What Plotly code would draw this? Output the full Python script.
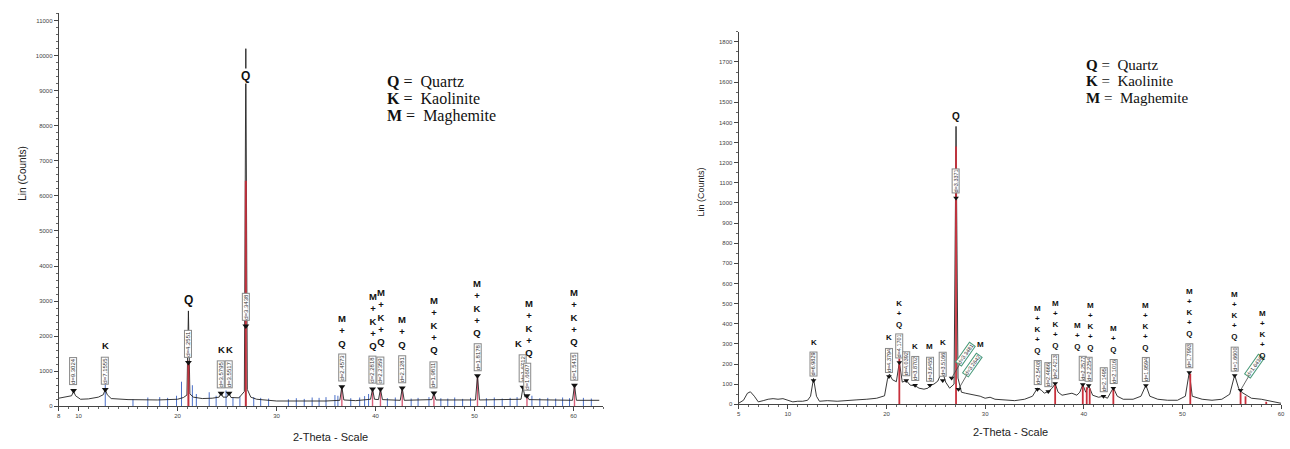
import plotly.graph_objects as go

W, H = 1290, 449

# ---------------- Left diffractogram ----------------
L_tt = [8.0, 8.8, 9.3, 9.5, 9.7, 10.2, 11.0, 12.0, 12.5, 12.7, 12.9, 13.3, 15.0, 18.0, 20.0, 20.6,
        20.95, 21.1, 21.25, 21.6, 22.5, 23.5, 24.2, 24.4, 24.6, 25.0, 25.2, 25.4, 26.2, 26.75,
        26.9, 27.05, 27.4, 28.0, 30.0, 35.0, 36.4, 36.6, 36.8, 38.0, 39.5, 39.7, 39.9, 40.3,
        40.5, 40.7, 42.5, 42.7, 42.9, 45.7, 45.9, 46.1, 50.1, 50.3, 50.5, 54.7, 54.9, 55.1,
        55.3, 55.5, 59.9, 60.1, 60.3, 62.6]
L_counts = [230, 260, 300, 430, 300, 200, 210, 260, 330, 480, 330, 220, 190, 180, 200, 250,
            320, 2720, 350, 260, 220, 230, 260, 380, 260, 260, 380, 250, 240, 420,
            10200, 480, 260, 200, 150, 150, 170, 560, 180, 160, 200, 490, 200, 190,
            490, 190, 170, 520, 170, 190, 380, 180, 180, 870, 180, 200, 540, 260,
            300, 190, 170, 600, 170, 170]

L_quartz_pos = [21.1, 26.9]
L_quartz_int = [1300, 6430]
L_magh_pos = [36.6, 39.7, 40.5, 42.7, 45.9, 50.3, 55.3, 60.1]
L_magh_int = [560, 490, 490, 520, 380, 870, 300, 600]
L_kaol_pos = [12.7, 15.5, 17.0, 18.2, 19.0, 19.9, 20.4, 21.5, 21.9, 23.2, 23.9, 24.9, 25.6, 26.3,
              27.7, 28.4, 29.2, 31.2, 32.0, 32.8, 33.6, 34.3, 35.0, 35.9, 36.2, 37.5, 38.4, 38.9,
              39.3, 41.2, 42.0, 43.6, 44.3, 45.4, 46.6, 47.3, 48.0, 48.8, 49.6, 51.2, 52.0, 52.8,
              53.6, 54.3, 55.8, 56.6, 57.4, 58.2, 58.9, 59.6, 61.0, 61.8]
L_kaol_int = [1100, 200, 250, 260, 240, 300, 700, 600, 350, 400, 300, 450, 250, 280,
              260, 240, 220, 200, 230, 210, 250, 240, 260, 320, 300, 230, 250, 290,
              350, 230, 250, 220, 240, 260, 230, 220, 250, 210, 240, 230, 250, 220,
              240, 260, 300, 230, 240, 220, 250, 230, 240, 220]

L_pk_pos = [9.5, 12.7, 21.1, 24.4, 25.2, 26.9, 36.6, 39.7, 40.5, 42.7, 45.9, 50.3, 54.9, 55.3, 60.1]
L_pk_int = [450, 480, 1250, 370, 370, 2290, 560, 490, 490, 520, 380, 870, 540, 300, 600]
L_pk_d = ["d=9.3024", "d=7.1555", "d=4.2551", "d=3.5795", "d=3.5517", "d=3.3438", "d=2.4573",
          "d=2.2818", "d=2.2359", "d=2.1281", "d=1.9811", "d=1.8178", "d=1.6712", "d=1.6607",
          "d=1.5415"]
L_pk_phase = ["", "K", "", "K", "K", "", "M<br>+<br>Q", "M<br>+<br>K<br>+<br>Q",
              "M<br>+<br>K<br>+<br>Q", "M<br>+<br>Q", "M<br>+<br>K<br>+<br>Q",
              "M<br>+<br>K<br>+<br>Q", "K", "M<br>+<br>K<br>+<br>Q", "M<br>+<br>K<br>+<br>Q"]
L_Q_pos = [21.1, 26.9]
L_Q_y = [3030, 9430]

# ---------------- Right diffractogram ----------------
R_tt = [5.0, 5.5, 5.9, 6.2, 6.6, 7.0, 7.5, 8.0, 8.5, 9.0, 9.5, 10.0, 10.5, 11.0, 11.5, 12.0,
        12.3, 12.6, 12.9, 13.2, 14.0, 15.0, 16.0, 17.0, 18.0, 19.0, 19.8, 20.1, 20.3, 20.6,
        21.0, 21.3, 21.6, 22.0, 22.4, 22.9, 23.3, 23.8, 24.2, 24.5, 24.8, 25.2, 25.5, 25.7,
        26.0, 26.4, 26.85, 27.05, 27.25, 27.6, 28.0, 28.5, 29.0, 29.5, 30.0, 30.5, 31.0, 32.0,
        33.0, 34.0, 34.8, 35.3, 35.7, 36.0, 36.4, 36.8, 37.1, 37.4, 37.8, 38.3, 38.8, 39.3,
        39.6, 39.9, 40.2, 40.5, 40.9, 41.5, 42.0, 42.4, 43.0, 43.4, 44.0, 45.0, 45.8, 46.3,
        46.7, 47.5, 48.5, 49.5, 50.3, 50.7, 51.0, 52.0, 53.0, 54.0, 54.8, 55.3, 55.7, 56.0,
        56.5, 57.0, 58.0, 59.0, 60.0]
R_counts = [5, 20, 55, 62, 40, 12, 18, 25, 28, 25, 28, 20, 12, 15, 15, 20,
            40, 128, 40, 15, 18, 15, 20, 22, 25, 30, 42, 125, 150, 122,
            112, 210, 110, 118, 95, 92, 80, 75, 80, 95, 100, 115, 150, 160,
            110, 80, 100, 1380, 130, 60, 55, 50, 45, 40, 30, 35, 25, 20,
            18, 25, 40, 80, 70, 55, 64, 80, 103, 60, 45, 50, 55, 45,
            60, 98, 60, 93, 45, 35, 40, 30, 82, 40, 25, 25, 40, 95,
            40, 25, 20, 20, 40, 160, 40, 25, 20, 25, 50, 145, 80, 60,
            45, 30, 25, 15, 5]

R_stick_pos = [21.3, 27.05, 37.1, 39.9, 40.3, 40.6, 43.0, 50.8, 55.9, 56.4, 58.5]
R_stick_int = [227, 1280, 100, 100, 85, 80, 82, 152, 60, 40, 12]

R_pk_pos = [12.6, 20.25, 21.3, 22.0, 22.9, 24.4, 25.7, 27.05, 35.3, 36.4, 37.1, 39.9, 40.5,
            42.0, 43.0, 46.3, 50.7, 55.3]
R_pk_int = [118, 138, 207, 118, 94, 94, 118, 1025, 75, 64, 103, 98, 93, 40, 80, 93, 158, 143]
R_pk_d = ["d=6.9829", "d=4.3794", "d=4.1701", "d=4.0392", "d=3.8702", "d=3.6455", "d=3.5166",
          "d=3.3371", "d=2.5408", "d=2.4666", "d=2.4213", "d=2.2577", "d=2.2254", "d=2.1495",
          "d=2.1016", "d=1.9594", "d=1.7993", "d=1.6600"]
R_pk_phase = ["K", "K", "K<br>+<br>Q", "", "K", "M", "K", "", "M<br>+<br>K<br>+<br>Q", "",
              "M<br>+<br>K<br>+<br>Q", "M<br>+<br>Q", "M<br>+<br>K<br>+<br>Q", "", "M<br>+<br>Q",
              "M<br>+<br>K<br>+<br>Q", "M<br>+<br>K<br>+<br>Q", "M<br>+<br>K<br>+<br>Q"]
R_tilt_pos = [26.6, 27.3, 55.9]
R_tilt_int = [130, 75, 70]
R_tilt_d = ["d=3.3481", "d=3.2642", "d=1.6436"]
R_tilt_phase = ["", "M", "M<br>+<br>K<br>+<br>Q"]
R_Q_pos = [27.05]
R_Q_y = [1428]

SANS = "Liberation Sans, Arial, sans-serif"
SERIF = "Liberation Serif, Times New Roman, serif"

# small nudges of crowded phase labels (pixels): index -> (dx, dy)
L_nudge = {8: (1, 4), 12: (-5, 0), 13: (2, 0)}
R_nudge = {11: (-5, 0), 12: (2, 0)}


def px_x(p):
    return p / W


def px_y(p):
    return 1 - p / H


fig = go.Figure()


def sticks(pos, val, color, xa, ya, width=1.2):
    xs, ys = [], []
    for p, v in zip(pos, val):
        xs += [p, p, None]
        ys += [0, v, None]
    fig.add_trace(go.Scatter(x=xs, y=ys, mode="lines", line=dict(color=color, width=width),
                             xaxis=xa, yaxis=ya, hoverinfo="skip", showlegend=False))


# left panel
sticks(L_kaol_pos, L_kaol_int, "#4a6fc8", "x", "y", 1.0)
sticks(L_magh_pos, L_magh_int, "#d8607a", "x", "y", 1.4)
fig.add_trace(go.Scatter(x=L_tt, y=L_counts, mode="lines", line=dict(color="#222", width=0.9),
                         xaxis="x", yaxis="y", showlegend=False))
sticks(L_quartz_pos, L_quartz_int, "#c0303c", "x", "y", 2.0)
fig.add_trace(go.Scatter(x=L_pk_pos, y=L_pk_int, mode="markers",
                         marker=dict(symbol="triangle-down", size=6, color="#111"),
                         xaxis="x", yaxis="y", showlegend=False))

# right panel
fig.add_trace(go.Scatter(x=R_tt, y=R_counts, mode="lines", line=dict(color="#222", width=0.9),
                         xaxis="x2", yaxis="y2", showlegend=False))
sticks(R_stick_pos, R_stick_int, "#c8303c", "x2", "y2", 1.8)
fig.add_trace(go.Scatter(x=R_pk_pos + R_tilt_pos, y=R_pk_int + R_tilt_int, mode="markers",
                         marker=dict(symbol="triangle-down", size=5, color="#111"),
                         xaxis="x2", yaxis="y2", showlegend=False))

ann = []
# left annotations
for i, (p, v, d, ph) in enumerate(zip(L_pk_pos, L_pk_int, L_pk_d, L_pk_phase)):
    ann.append(dict(x=p, y=v, xref="x", yref="y", text=d, textangle=-90, showarrow=False,
                    xanchor="center", yanchor="bottom", yshift=5,
                    font=dict(size=6, family=SANS, color="#333"),
                    bordercolor="#888", borderwidth=1, borderpad=0, bgcolor="white"))
    if ph:
        dx, dy = L_nudge.get(i, (0, 0))
        ann.append(dict(x=p, y=v, xref="x", yref="y", text="<b>" + ph + "</b>", showarrow=False,
                        xanchor="center", yanchor="bottom", yshift=36 + dy, xshift=dx,
                        font=dict(size=9.5, family=SANS, color="#111")))
for p, v in zip(L_Q_pos, L_Q_y):
    ann.append(dict(x=p, y=v, xref="x", yref="y", text="<b>Q</b>", showarrow=False,
                    xanchor="center", yanchor="middle",
                    font=dict(size=12, family=SANS, color="#111"), bgcolor="white", borderpad=0))

# right annotations
for i, (p, v, d, ph) in enumerate(zip(R_pk_pos, R_pk_int, R_pk_d, R_pk_phase)):
    ann.append(dict(x=p, y=v, xref="x2", yref="y2", text=d, textangle=-90, showarrow=False,
                    xanchor="center", yanchor="bottom", yshift=4,
                    font=dict(size=5.5, family=SANS, color="#333"),
                    bordercolor="#888", borderwidth=1, borderpad=0, bgcolor="white"))
    if ph:
        dx, dy = R_nudge.get(i, (0, 0))
        ann.append(dict(x=p, y=v, xref="x2", yref="y2", text="<b>" + ph + "</b>", showarrow=False,
                        xanchor="center", yanchor="bottom", yshift=32 + dy, xshift=dx,
                        font=dict(size=8, family=SANS, color="#111")))
for p, v, d, ph in zip(R_tilt_pos, R_tilt_int, R_tilt_d, R_tilt_phase):
    ann.append(dict(x=p, y=v, xref="x2", yref="y2", text=d, textangle=-55, showarrow=True,
                    arrowhead=0, arrowwidth=0.8, arrowcolor="#444", ax=14, ay=-24,
                    font=dict(size=5.5, family=SANS, color="#333"),
                    bordercolor="#4a9a7a", borderwidth=1, borderpad=0, bgcolor="white"))
    if ph:
        ann.append(dict(x=p, y=v, xref="x2", yref="y2", text="<b>" + ph + "</b>", showarrow=False,
                        xanchor="center", xshift=22, yanchor="bottom",
                        yshift=28 if "<br>" in ph else 38,
                        font=dict(size=8, family=SANS, color="#111")))
for p, v in zip(R_Q_pos, R_Q_y):
    ann.append(dict(x=p, y=v, xref="x2", yref="y2", text="<b>Q</b>", showarrow=False,
                    xanchor="center", yanchor="middle",
                    font=dict(size=10, family=SANS, color="#111")))

# legend text blocks
leg_lines = ["<b>Q</b> =  Quartz", "<b>K</b> =  Kaolinite", "<b>M</b> =  Maghemite"]
for i, t in enumerate(leg_lines):
    ann.append(dict(x=px_x(385), y=px_y(82 + i * 17.5), xref="paper", yref="paper", text=t,
                    xanchor="left", yanchor="middle", showarrow=False,
                    font=dict(size=16, family=SERIF, color="#111")))
    ann.append(dict(x=px_x(1087), y=px_y(65 + i * 17), xref="paper", yref="paper", text=t,
                    xanchor="left", yanchor="middle", showarrow=False,
                    font=dict(size=15, family=SERIF, color="#111")))

# axis titles
titles = [(330, 440, "2-Theta - Scale", 0, 11), (1013, 435, "2-Theta - Scale", 0, 11),
          (21, 175, "Lin (Counts)", -90, 10), (702, 193, "Lin (Counts)", -90, 9)]
for tx, ty, tt, ang, fs in titles:
    ann.append(dict(x=px_x(tx), y=px_y(ty), xref="paper", yref="paper", text=tt,
                    textangle=ang, showarrow=False, xanchor="center", yanchor="middle",
                    font=dict(size=fs, family=SANS, color="#222")))

L_xticks = [8, 10, 20, 30, 40, 50, 60]
R_xticks = [5, 10, 20, 30, 40, 50, 60]

axis_common = dict(showgrid=False, zeroline=False, showline=True, linecolor="#444", linewidth=1,
                   ticks="outside", tickcolor="#444", ticklen=4, tickformat="d",
                   tickfont=dict(size=6, family=SANS, color="#444"))

fig.update_layout(
    width=W, height=H, margin=dict(l=0, r=0, t=0, b=0),
    paper_bgcolor="white", plot_bgcolor="white", showlegend=False,
    xaxis=dict(domain=[px_x(57), px_x(604)], range=[8, 63], anchor="y",
               tickvals=L_xticks, minor=dict(dtick=1, ticklen=2, ticks="outside", tickcolor="#666"),
               **axis_common),
    yaxis=dict(domain=[px_y(409), px_y(13)], range=[0, 11220], anchor="x", dtick=1000,
               minor=dict(dtick=200, ticklen=2, ticks="outside", tickcolor="#666"),
               **axis_common),
    xaxis2=dict(domain=[px_x(740), px_x(1285)], range=[5, 60], anchor="y2",
                tickvals=R_xticks, minor=dict(dtick=1, ticklen=2, ticks="outside", tickcolor="#666"),
                **axis_common),
    yaxis2=dict(domain=[px_y(407), px_y(32)], range=[0, 1850], anchor="x2", dtick=100,
                minor=dict(dtick=50, ticklen=2, ticks="outside", tickcolor="#666"),
                **axis_common),
    annotations=ann,
)

fig.write_html("out.html", config={"displayModeBar": False},
               post_script="document.body.style.margin='0';document.body.style.overflow='hidden';")
